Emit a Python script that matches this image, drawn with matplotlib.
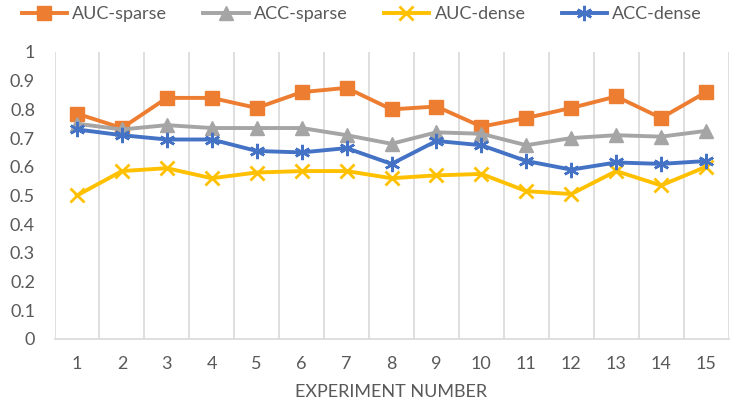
import matplotlib
matplotlib.use("Agg")
import matplotlib.pyplot as plt

# experiment numbers
experiments = list(range(1, 16))

# values
auc_sparse = [0.785, 0.735, 0.84, 0.84, 0.805, 0.86, 0.875, 0.80, 0.81, 0.74, 0.77, 0.805, 0.845, 0.77, 0.86]
acc_sparse = [0.75, 0.73, 0.745, 0.735, 0.735, 0.735, 0.71, 0.68, 0.72, 0.715, 0.675, 0.70, 0.71, 0.705, 0.725]
auc_dense = [0.50, 0.585, 0.595, 0.56, 0.58, 0.585, 0.585, 0.56, 0.57, 0.575, 0.515, 0.505, 0.585, 0.535, 0.60]
acc_dense = [0.73, 0.71, 0.695, 0.695, 0.655, 0.65, 0.665, 0.61, 0.69, 0.675, 0.62, 0.59, 0.615, 0.61, 0.62]

y_ticks = [0, 0.1, 0.2, 0.3, 0.4, 0.5, 0.6, 0.7, 0.8, 0.9, 1]
y_tick_labels = ['0', '0.1', '0.2', '0.3', '0.4', '0.5', '0.6', '0.7', '0.8', '0.9', '1']

plt.rcParams['font.family'] = ['Lato', 'DejaVu Sans']
txt = '#595959'

fig = plt.figure(figsize=(7.31, 4.03), dpi=100)
ax = fig.add_axes([0.0746, 0.159, 0.922, 0.712])

ax.plot(experiments, auc_sparse, color='#ED7D31', lw=2.8, marker='s', ms=10, label='AUC-sparse', zorder=3)
ax.plot(experiments, acc_sparse, color='#A5A5A5', lw=2.8, marker='^', ms=9.5, label='ACC-sparse', zorder=3)
ax.plot(experiments, auc_dense, color='#FFC000', lw=2.8, marker='x', ms=10, mew=2, label='AUC-dense', zorder=3)
ax.plot(experiments, acc_dense, color='#4472C4', lw=2.8, marker=(6, 2, 0), ms=11, mew=1.8, label='ACC-dense', zorder=3)

ax.set_xlim(0.5, 15.5)
ax.set_ylim(0, 1)
ax.set_xticks(experiments)
ax.set_yticks(y_ticks)
ax.set_yticklabels(y_tick_labels)

# vertical grid lines between categories
for b in range(0, 16):
    ax.axvline(b + 0.5, color='#D9D9D9', lw=1.2, zorder=1)

for s in ['top', 'right', 'left']:
    ax.spines[s].set_visible(False)
ax.spines['bottom'].set_color('#D9D9D9')
ax.spines['bottom'].set_linewidth(1.2)
ax.tick_params(axis='both', length=0, colors=txt, labelsize=13)
ax.tick_params(axis='x', pad=12)
ax.tick_params(axis='y', pad=14)

ax.set_xlabel('EXPERIMENT NUMBER', color=txt, fontsize=13, labelpad=9)

fig.legend(loc='upper center', bbox_to_anchor=(0.495, 1.025), ncol=4, frameon=False,
           fontsize=13, labelcolor=txt, handlelength=2.5, columnspacing=2.0, handletextpad=0.3)

fig.savefig('out.png', dpi=100)
